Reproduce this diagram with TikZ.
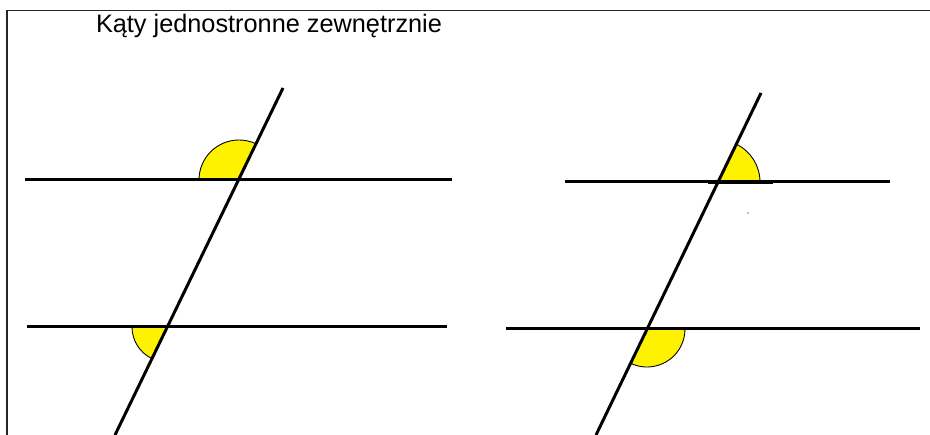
\documentclass[tikz,border=0pt]{standalone}
\usepackage{fontspec}
\setmainfont{Liberation Sans}
\usetikzlibrary{calc}
\definecolor{Yel}{HTML}{FFF200}

\begin{document}
\begin{tikzpicture}[x=0.02cm,y=0.02cm,
  line/.style={line width=1.7pt},
  wedge/.style={fill=Yel,draw=black,line width=0.5pt}]
  \useasboundingbox (0,0) rectangle (930,435);
  \draw[line width=1.1pt,black!85] (7,0) -- (7,424.5) -- (930,424.5);
  \node[font=\fontsize{14.4}{17}\selectfont,anchor=base,inner sep=0pt] (title) at (269,402) {Kąty jednostronne zewnętrznie};

  % left figure
  \coordinate (A1) at (239,255);
  \coordinate (A2) at (167,108);
  \filldraw[wedge] (A1) -- ++(180:40) arc[start angle=180,end angle=64.4,radius=40] -- cycle;
  \filldraw[wedge] (A2) -- ++(180:35) arc[start angle=180,end angle=244.4,radius=35] -- cycle;
  \draw[line] (25,255) -- (452,255);
  \draw[line] (27,108) -- (447,108);
  \draw[line] (115,0) -- (283,347);

  % right figure
  \coordinate (B1) at (718,253);
  \coordinate (B2) at (647,106);
  \filldraw[wedge] (B1) -- ++(0:42) arc[start angle=0,end angle=64.2,radius=42] -- cycle;
  \filldraw[wedge] (B2) -- ++(244.2:38) arc[start angle=244.2,end angle=360,radius=38] -- cycle;
  \draw[line] (565,253) -- (890,253);
  \draw[line width=2.4pt] (708,253) -- (773,253);
  \draw[line] (506,106) -- (920,106);
  \draw[line] (596,0) -- (761,342);
  \fill (748,222) circle[radius=0.7];
\end{tikzpicture}
\end{document}
